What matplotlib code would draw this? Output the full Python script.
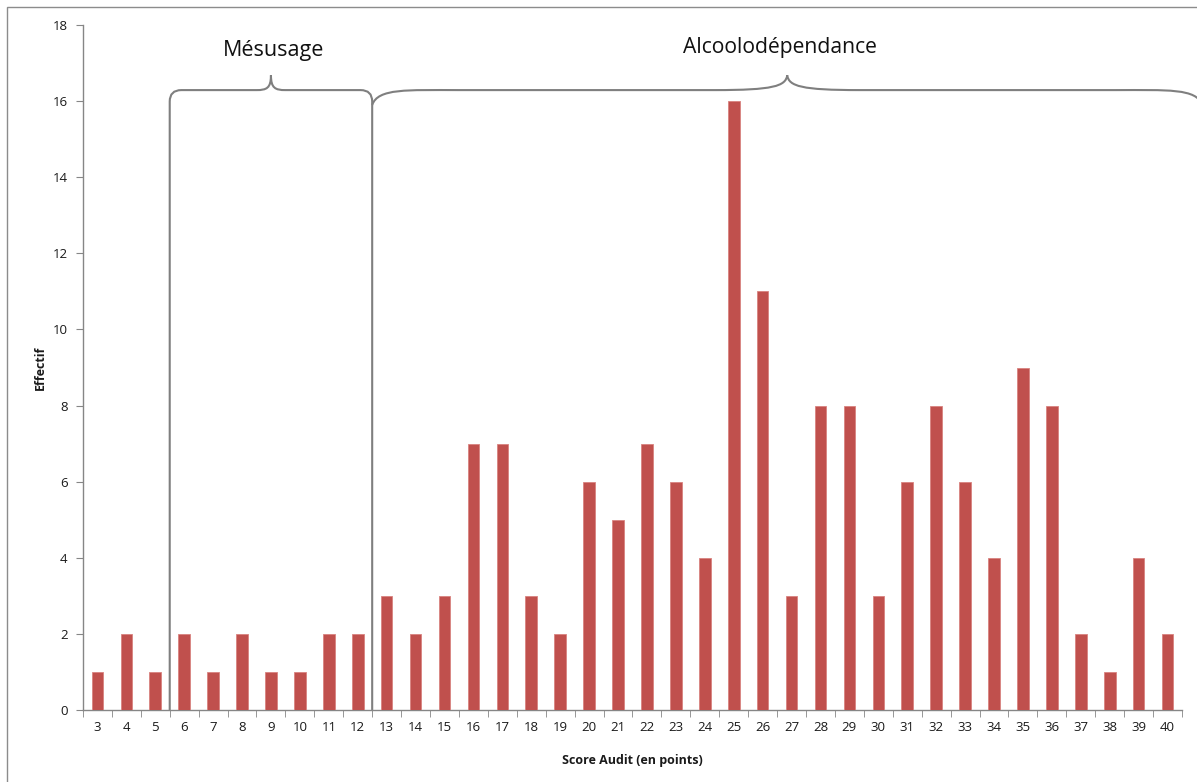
import matplotlib
matplotlib.use("Agg")
import matplotlib.pyplot as plt
from matplotlib.path import Path
from matplotlib.patches import PathPatch, Rectangle

scores = list(range(3, 41))
effectifs = [1, 2, 1, 2, 1, 2, 1, 1, 2, 2, 3, 2, 3, 7, 7, 3, 2, 6, 5, 7,
             6, 4, 16, 11, 3, 8, 8, 3, 6, 8, 6, 4, 9, 8, 2, 1, 4, 2]
group_labels = ["Mésusage", "Alcoolodépendance"]
y_ticks = list(range(0, 19, 2))

plt.rcParams['font.family'] = ['Open Sans', 'DejaVu Sans']

fig = plt.figure(figsize=(11.97, 7.82), dpi=100)
ax = fig.add_axes([0.0693, 0.0921, 0.9182, 0.8759])

x = list(range(len(scores)))
ax.bar(x, effectifs, width=0.4, color='#C0504D', edgecolor='#D9837F', linewidth=0.6, zorder=3)

ax.set_xlim(-0.5, len(scores) - 0.5)
ax.set_ylim(0, 18)
ax.set_yticks(y_ticks)
ax.set_yticklabels([str(v) for v in y_ticks])
ax.set_xticks(x)
ax.set_xticklabels([str(s) for s in scores])
ax.set_xticks([i - 0.5 for i in range(len(scores) + 1)], minor=True)
ax.tick_params(axis='x', which='major', length=0, pad=8, labelsize=9.5, colors='#1a1a1a')
ax.tick_params(axis='x', which='minor', length=5, color='#868686', direction='out')
ax.tick_params(axis='y', length=5, color='#868686', labelsize=9.5, colors='#1a1a1a', pad=6)
ax.tick_params(axis='y', color='#868686')
for s in ['top', 'right']:
    ax.spines[s].set_visible(False)
for s in ['left', 'bottom']:
    ax.spines[s].set_color('#868686')
    ax.spines[s].set_linewidth(1.0)

ax.set_xlabel("Score Audit (en points)", fontsize=9, fontweight='bold', color='#1a1a1a')
ax.set_ylabel("Effectif", fontsize=9, fontweight='bold', color='#1a1a1a')
ax.xaxis.set_label_coords(0.5, -0.064)
ax.yaxis.set_label_coords(-0.033, 0.5)

# braces
bc = '#7f7f7f'
yh, yp = 16.29, 16.68
# Mésusage brace (between categories 5|6 and 12|13)
a0, a1 = 2.5, 9.5
am = (a0 + a1) / 2
rx, ry = 0.4, 0.3
verts = [(a0, 0), (a0, yh - ry), (a0, yh), (a0 + rx, yh), (am - 0.5, yh),
         (am - 0.15, yh), (am, yh + 0.05), (am, yp),
         (am, yh + 0.05), (am + 0.15, yh), (am + 0.5, yh),
         (a1 - rx, yh), (a1, yh), (a1, yh - ry), (a1, 0)]
codes = [Path.MOVETO, Path.LINETO, Path.CURVE3, Path.CURVE3, Path.LINETO,
         Path.CURVE4, Path.CURVE4, Path.CURVE4,
         Path.CURVE4, Path.CURVE4, Path.CURVE4,
         Path.LINETO, Path.CURVE3, Path.CURVE3, Path.LINETO]
ax.add_patch(PathPatch(Path(verts, codes), facecolor='none', edgecolor=bc, lw=1.5, clip_on=False, zorder=4))

# Alcoolodépendance brace
b0, b1 = 9.5, 38.2
bm = (b0 + b1) / 2
ye = 15.9
verts = [(b0, ye), (b0 + 0.2, yh + 0.05), (b0 + 1.2, yh), (b0 + 3.0, yh),
         (bm - 2.5, yh), (bm - 0.5, yh), (bm - 0.05, yh + 0.1), (bm, yp),
         (bm + 0.05, yh + 0.1), (bm + 0.5, yh), (bm + 2.5, yh),
         (b1 - 3.0, yh), (b1 - 1.2, yh), (b1 - 0.2, yh + 0.05), (b1, ye)]
codes = [Path.MOVETO, Path.CURVE4, Path.CURVE4, Path.CURVE4,
         Path.LINETO, Path.CURVE4, Path.CURVE4, Path.CURVE4,
         Path.CURVE4, Path.CURVE4, Path.CURVE4,
         Path.LINETO, Path.CURVE4, Path.CURVE4, Path.CURVE4]
ax.add_patch(PathPatch(Path(verts, codes), facecolor='none', edgecolor=bc, lw=1.5, clip_on=False, zorder=4))

ax.text(am + 0.1, 17.34, group_labels[0], ha='center', va='center', fontsize=15.5, color='#111111')
ax.text(23.6, 17.42, group_labels[1], ha='center', va='center', fontsize=15.2, color='#111111')

# outer frame
fig.patches.append(Rectangle((7 / 1197, -0.1), 1.2, 1.1 - 7 / 782, transform=fig.transFigure,
                             fill=False, edgecolor='#8c8c8c', lw=1.0))

fig.savefig("out.png", dpi=100)
